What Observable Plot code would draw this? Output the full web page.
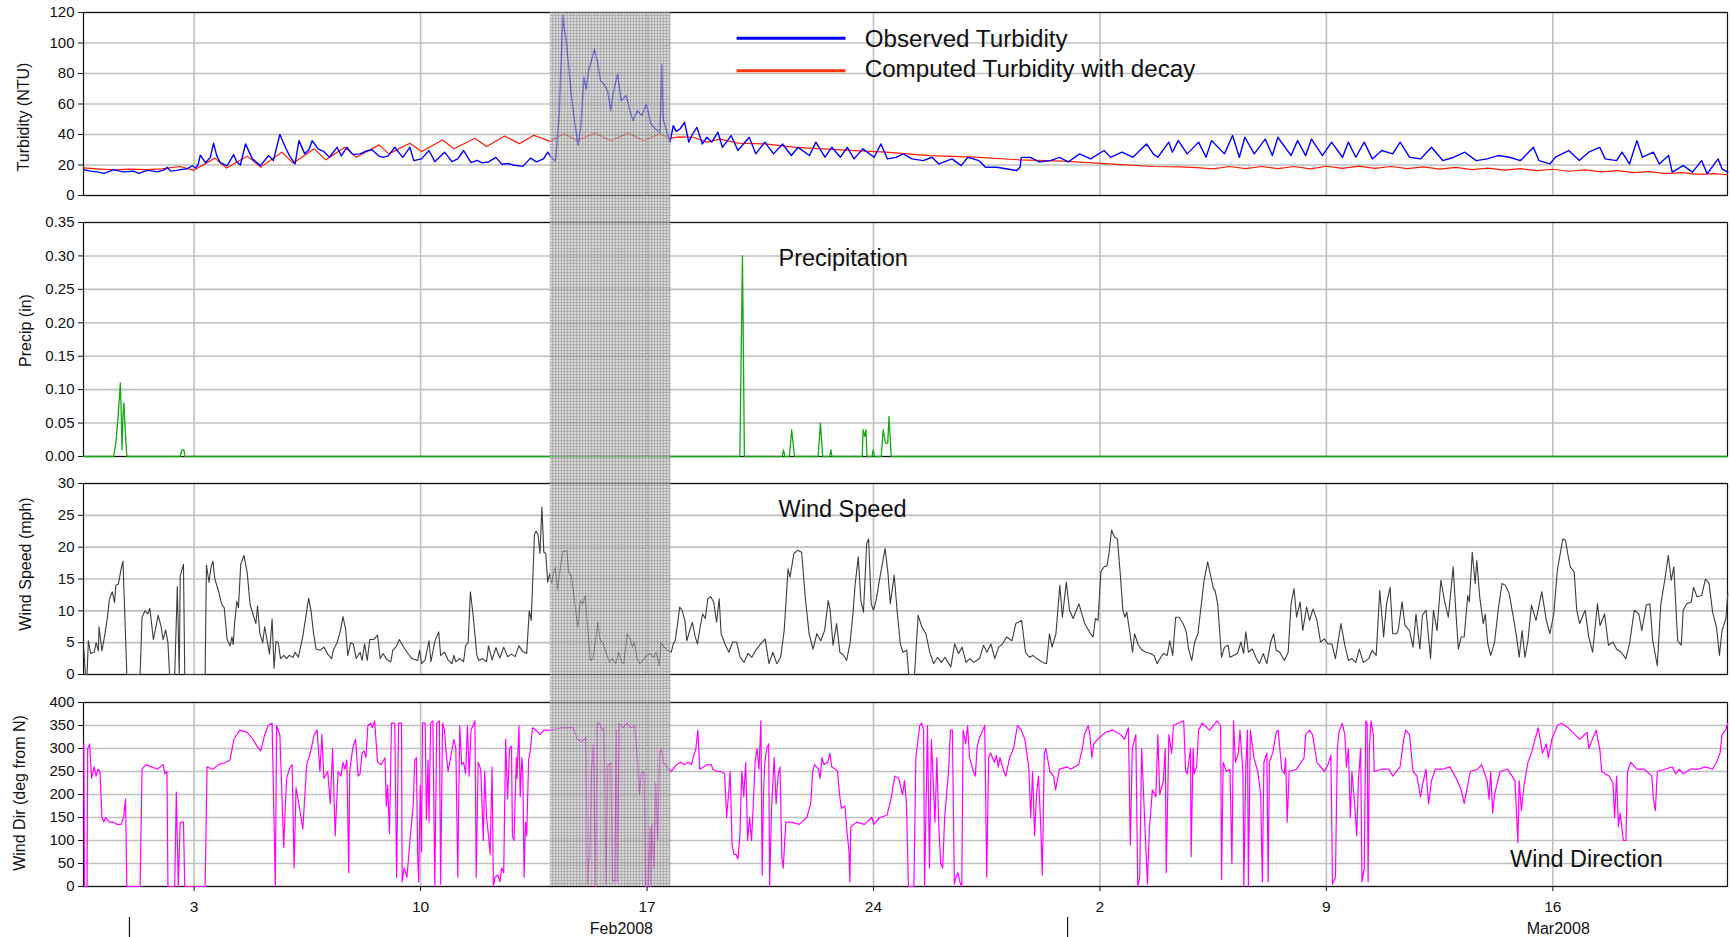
<!DOCTYPE html>
<html><head><meta charset="utf-8">
<script src="https://cdn.jsdelivr.net/npm/d3@7"></script>
<script src="https://cdn.jsdelivr.net/npm/@observablehq/plot@0.6"></script>
<style>
html,body{margin:0;padding:0;background:#fff;}
#chart{position:relative;width:1730px;height:937px;font-family:"Liberation Sans",Arial,sans-serif;}
#chart svg{display:block;}
</style></head><body><div id="chart"></div>
<script>
// time values are days after 1 Feb 2008 00:00 (UTC)
const baseDate = Date.UTC(2008, 1, 1);
const xDomainDays = [-1.42, 49.40];
const weekTicks = ["2008-02-03","2008-02-10","2008-02-17","2008-02-24","2008-03-02","2008-03-09","2008-03-16"];
const monthStarts = ["2008-02-01","2008-03-01"];
const monthLabels = ["Feb2008","Mar2008"];
const monthLabelDates = ["2008-02-16T05:00","2008-03-16T04:00"];
const shadeDays = [13.01, 16.74];

const turbTicks = [0,20,40,60,80,100,120];
const precipTicks = [0,0.05,0.10,0.15,0.20,0.25,0.30,0.35];
const speedTicks = [0,5,10,15,20,25,30];
const dirTicks = [0,50,100,150,200,250,300,350,400];

const turbObserved = [[-1.41,17],[-1.21,16],[-0.99,15.5],[-0.79,14.5],[-0.6,16],[-0.49,17],[-0.3,16],[-0.18,15.5],[0.13,16],[0.29,14.5],[0.55,16.5],[0.75,16],[0.86,15.5],[1.1,17],[1.17,18.5],[1.27,16],[1.45,16.5],[1.58,17],[1.78,17.5],[1.94,19.5],[2.04,18],[2.12,20],[2.19,26.5],[2.27,24],[2.35,21.5],[2.5,25],[2.6,34.3],[2.7,26],[2.81,21.6],[3.02,19.5],[3.22,26.8],[3.32,22],[3.43,20],[3.59,33.8],[3.8,24],[4.05,19.6],[4.3,26.2],[4.45,23],[4.65,40],[4.82,31.6],[4.95,26],[5.12,20.7],[5.24,36],[5.42,27.3],[5.55,30],[5.65,36],[5.83,30.6],[6.0,29],[6.18,25.1],[6.42,31.6],[6.55,26],[6.72,31.6],[6.9,27],[7.13,27.3],[7.3,29],[7.5,30],[7.7,26],[7.84,25],[8.0,26],[8.2,31.6],[8.45,25],[8.67,31.6],[8.79,22.9],[9.03,24],[9.26,29.5],[9.44,22.2],[9.74,28.4],[9.97,22.2],[10.15,24],[10.33,29.5],[10.56,21.6],[10.75,23],[10.9,21.4],[11.1,22],[11.33,25],[11.51,20.5],[11.7,21],[11.86,20],[12.16,19.1],[12.4,24.5],[12.58,22],[12.8,24],[12.93,28.4],[13.04,25.1],[13.17,22.5],[13.28,51.3],[13.4,118],[13.45,108],[13.49,104],[13.56,88.4],[13.67,64],[13.77,47],[13.87,33],[13.95,44.7],[14.05,77.5],[14.12,69.8],[14.19,81.8],[14.28,88],[14.37,96],[14.46,88.4],[14.56,75.3],[14.67,73],[14.78,68.7],[14.88,55.6],[14.95,66.6],[15.09,79.7],[15.2,62.2],[15.36,65.5],[15.47,55.6],[15.57,49.1],[15.7,55.6],[15.84,52.4],[15.98,60],[16.12,47],[16.26,43.6],[16.4,41.5],[16.46,86.2],[16.5,50],[16.63,40.5],[16.71,35],[16.81,45.8],[16.9,42],[17.02,43.6],[17.16,48],[17.29,35],[17.4,40],[17.54,44.7],[17.71,33.8],[17.85,38.2],[18.0,35],[18.19,41.5],[18.33,31.6],[18.6,39.3],[18.81,29.5],[19.16,38.2],[19.36,27.3],[19.64,35],[19.91,27.3],[20.19,33.8],[20.46,26.2],[20.67,31.6],[21.02,26.2],[21.22,35],[21.5,25.1],[21.71,31.6],[21.98,25.1],[22.19,31.6],[22.4,24],[22.67,30.6],[23.02,25.1],[23.23,33.8],[23.43,24],[23.7,25],[23.92,27.3],[24.19,24],[24.54,22.9],[24.81,25.1],[25.02,20.7],[25.43,24],[25.71,19.6],[25.92,25.1],[26.26,22.9],[26.46,18.5],[26.81,18.5],[27.09,17.5],[27.43,16.4],[27.53,18.5],[27.57,25],[27.85,25],[28.12,22],[28.47,22.9],[28.75,25],[29.02,22],[29.37,27.3],[29.71,24],[30.13,29.5],[30.33,25],[30.68,28.4],[31.02,25.1],[31.44,33.8],[31.65,27.3],[31.79,25.1],[32.13,35],[32.24,28.4],[32.42,36],[32.7,27.3],[33.05,35],[33.28,25.1],[33.45,36],[33.85,27.3],[34.1,39.3],[34.31,25.1],[34.48,38.2],[34.77,27.3],[35.11,37],[35.33,26.2],[35.5,38.2],[35.91,26.2],[36.11,36],[36.36,26.2],[36.54,37],[36.88,26.2],[37.16,35],[37.5,25.1],[37.68,35],[37.91,25.1],[38.17,35],[38.42,24],[38.71,29.5],[39.05,27.3],[39.28,35],[39.57,25.1],[39.91,24],[40.25,31.6],[40.6,22.9],[40.94,25.1],[41.28,28.4],[41.63,22.9],[41.97,24],[42.31,26.2],[42.66,25.1],[43.0,22.9],[43.4,31.6],[43.57,22.9],[43.91,20.7],[44.08,25.1],[44.49,29.5],[44.82,22.9],[45.11,28.4],[45.45,31.6],[45.62,24],[45.97,22.9],[46.14,28.4],[46.37,20.7],[46.6,36],[46.77,25.1],[47.11,28.4],[47.29,20.7],[47.58,26.2],[47.69,15.3],[48.03,19.6],[48.32,15.3],[48.6,22.9],[48.77,14.2],[49.11,24],[49.23,17.5],[49.41,15.3]];

const turbComputed = [[-1.42,18.1],[-0.9,17.3],[-0.44,16.8],[0.0,17.3],[0.51,17.0],[1.0,17.5],[1.57,19],[1.99,16.5],[2.64,24.5],[3.0,18],[3.64,25.8],[4.06,18.6],[4.71,28.4],[5.06,21.2],[5.71,30.6],[6.07,23.4],[6.66,31.6],[7.01,25.1],[7.72,33.2],[8.02,27.3],[8.67,34.3],[9.03,28.8],[9.68,36.4],[10.03,30.6],[10.68,37.5],[11.04,32.1],[11.6,39],[12.05,34],[12.5,39.5],[13.0,35.5],[13.43,40.5],[13.84,35.9],[14.39,41],[14.88,35.9],[15.43,41],[15.9,35.9],[16.39,40.5],[16.7,37.5],[17.0,38.5],[17.43,38.2],[17.85,35],[18.26,37],[18.81,34.3],[19.64,33.8],[20.6,31.6],[21.98,29.9],[23.37,28.4],[24.75,26.2],[26.12,25.1],[27.5,23.4],[28.88,22.5],[30.26,20.7],[31.65,19],[32.5,18.8],[33.0,18.3],[33.5,17.5],[34.0,19],[34.5,17.6],[35.0,19],[35.5,17.6],[36.0,19],[36.5,17.5],[37.0,19.2],[37.5,17.8],[38.0,19.3],[38.5,17.8],[39.0,19],[39.5,17.6],[40.0,18.8],[40.5,17.3],[41.0,18.4],[41.5,17],[42.0,18],[42.5,16.6],[43.0,17.6],[43.5,16.3],[44.0,17.2],[44.5,15.9],[45.0,16.8],[45.5,15.5],[46.0,16.3],[46.5,15],[47.0,15.7],[47.5,14.4],[48.0,15],[48.5,13.8],[49.0,14.3],[49.4,13.6]];

const precip = [[-1.42,0],[-0.49,0],[-0.42,0.02],[-0.35,0.06],[-0.28,0.11],[-0.25,0.06],[-0.23,0.01],[-0.2,0.06],[-0.17,0.08],[-0.12,0.03],[-0.08,0],[1.57,0],[1.62,0.01],[1.68,0.01],[1.72,0],[18.87,0],[18.95,0.30],[19.01,0],[20.18,0],[20.22,0.01],[20.26,0],[20.4,0],[20.47,0.04],[20.56,0],[21.29,0],[21.36,0.05],[21.43,0],[21.65,0],[21.68,0.01],[21.72,0],[22.65,0],[22.68,0.04],[22.73,0.03],[22.77,0.04],[22.8,0],[22.96,0],[22.99,0.01],[23.03,0],[23.24,0],[23.3,0.04],[23.37,0.02],[23.44,0.02],[23.48,0.06],[23.55,0],[49.4,0]];

const windSpeed = [[-1.41,4],[-1.36,0],[-1.31,0],[-1.27,5.3],[-1.2,3.3],[-1.09,3.5],[-1.03,5],[-0.96,3.7],[-0.94,7.5],[-0.85,3.7],[-0.77,6],[-0.68,9],[-0.62,11.8],[-0.53,13],[-0.46,11.3],[-0.42,14],[-0.34,14.2],[-0.26,16.5],[-0.2,17.8],[-0.08,0],[0.33,0],[0.39,9],[0.48,10],[0.57,9.5],[0.63,10.4],[0.74,5.5],[0.89,9.3],[0.98,7.5],[1.04,5.5],[1.12,7],[1.19,5],[1.24,0],[1.4,0],[1.48,13.8],[1.54,0],[1.57,15.5],[1.67,17.3],[1.71,0],[2.34,0],[2.38,17.2],[2.46,14.5],[2.52,16.8],[2.58,17.8],[2.64,15],[2.76,13],[2.85,11],[2.93,10.5],[3.02,5.5],[3.11,4.5],[3.17,5.9],[3.21,4.7],[3.25,8],[3.32,11.5],[3.37,10.5],[3.44,17.3],[3.54,18.7],[3.64,16],[3.73,11],[3.82,9.5],[3.91,8],[3.96,10.8],[4.03,6.5],[4.12,5],[4.18,7.5],[4.27,5],[4.33,3.2],[4.41,8.7],[4.47,1],[4.53,5.2],[4.6,5],[4.67,2.5],[4.77,3],[4.86,2.5],[4.94,3],[5.06,2.7],[5.12,3.5],[5.22,2.7],[5.36,6],[5.48,10],[5.54,12],[5.62,9.8],[5.69,6.5],[5.77,4],[5.89,3.8],[6.01,4.3],[6.13,3.2],[6.25,2.5],[6.3,3.8],[6.42,5],[6.52,6.8],[6.6,9.1],[6.68,7.2],[6.75,3],[6.84,5],[6.92,4.8],[7.01,2.5],[7.13,3.5],[7.19,2.2],[7.27,4.8],[7.35,2.2],[7.43,5.5],[7.55,5.5],[7.67,6.2],[7.75,2.5],[7.84,3.3],[7.96,2.3],[8.08,2],[8.14,3.8],[8.26,4.5],[8.34,5.5],[8.49,4.2],[8.61,3.3],[8.73,2.5],[8.91,2.2],[8.97,3.8],[9.03,1.7],[9.14,2.3],[9.26,5.3],[9.32,2],[9.44,5.2],[9.56,6.7],[9.62,3],[9.74,3.5],[9.85,2.3],[9.97,1.7],[10.03,3],[10.09,2],[10.21,2.5],[10.33,2],[10.39,4.5],[10.47,5],[10.54,13],[10.62,9.5],[10.74,3],[10.8,2.2],[10.92,2.5],[11.04,2],[11.1,4.5],[11.21,2.3],[11.33,4.2],[11.45,2.6],[11.57,4.3],[11.69,2.8],[11.81,3.2],[11.92,2.8],[12.04,4.5],[12.16,3.6],[12.28,3.3],[12.36,10],[12.42,8.5],[12.52,22],[12.57,22.5],[12.63,22],[12.69,19],[12.75,26.3],[12.81,19.2],[12.87,19],[12.93,14.5],[12.99,15.8],[13.05,14.3],[13.11,16],[13.17,16.8],[13.23,13.3],[13.34,17.5],[13.4,19.3],[13.52,19.5],[13.58,16],[13.66,15.5],[13.77,11.1],[13.86,7.4],[13.94,11.6],[14.01,11.1],[14.09,12.4],[14.17,6.9],[14.25,2.2],[14.33,2.5],[14.48,8.2],[14.54,5.6],[14.65,4.8],[14.74,3.3],[14.84,1.9],[14.92,2.5],[15.04,1.7],[15.12,3.5],[15.22,1.9],[15.28,1.7],[15.39,6.4],[15.48,5.6],[15.55,4.3],[15.61,5.1],[15.69,2.5],[15.78,1.7],[15.87,2.2],[15.99,3],[16.1,3.3],[16.2,2.7],[16.28,3.5],[16.38,1.4],[16.43,5.1],[16.52,4.3],[16.64,3.8],[16.75,3.5],[16.81,4.8],[16.87,5.3],[16.93,7.4],[17.01,10.6],[17.08,10.1],[17.17,8.5],[17.23,5.3],[17.32,6.9],[17.4,8.2],[17.49,5.9],[17.56,4.8],[17.64,7.4],[17.72,9.5],[17.8,8.8],[17.88,11.9],[17.97,12.2],[18.06,11.4],[18.15,8.2],[18.23,11.9],[18.29,6.4],[18.41,4.8],[18.53,3.5],[18.65,5.1],[18.77,5.1],[18.88,2.7],[19.0,1.9],[19.12,3.3],[19.24,2.7],[19.36,3.8],[19.48,4.6],[19.65,5.6],[19.77,1.7],[19.89,3.5],[20.01,1.7],[20.13,2.7],[20.24,6.9],[20.36,16.6],[20.42,15.3],[20.54,19],[20.66,19.5],[20.78,19.2],[20.89,12.2],[21.01,6.4],[21.13,4],[21.25,6.4],[21.37,5.3],[21.49,6.9],[21.6,11.6],[21.66,10.1],[21.75,4.6],[21.86,8],[21.96,3.5],[22.08,3],[22.17,2.2],[22.28,5.1],[22.37,9.8],[22.43,14],[22.53,18.5],[22.61,11.6],[22.69,9.8],[22.79,20.6],[22.85,21.3],[22.93,11.1],[23.0,10.1],[23.08,11.6],[23.2,15.3],[23.36,19.8],[23.45,15.8],[23.52,11.1],[23.64,15.6],[23.73,10.1],[23.83,4.8],[23.91,3.5],[24.03,3.8],[24.09,0],[24.27,0],[24.38,9.3],[24.5,7.4],[24.62,6.4],[24.74,3.5],[24.86,1.7],[24.98,2.7],[25.1,1.9],[25.21,2.7],[25.39,1.2],[25.51,4.8],[25.63,3.3],[25.74,4.3],[25.86,1.9],[25.98,2.5],[26.1,1.9],[26.28,2.5],[26.4,4.6],[26.51,3.5],[26.63,4.8],[26.75,2.5],[26.87,4.3],[26.99,4.8],[27.11,5.9],[27.28,5.3],[27.4,8],[27.58,8.5],[27.7,3.5],[27.82,2.7],[27.93,3],[28.05,2.5],[28.23,1.9],[28.35,1.7],[28.44,6.4],[28.52,4.3],[28.64,6.4],[28.76,14],[28.84,9],[28.96,14.5],[29.06,10.1],[29.17,8.8],[29.35,11.1],[29.53,8],[29.71,6.4],[29.79,5.9],[29.86,8.8],[29.94,8.5],[30.03,16.1],[30.12,16.9],[30.22,17.1],[30.28,19],[30.36,22.7],[30.45,21.6],[30.54,21.3],[30.62,16.4],[30.71,10.1],[30.77,9],[30.83,9.8],[30.93,6.4],[31.01,3.5],[31.07,6.4],[31.19,4.6],[31.31,3.8],[31.42,3.5],[31.56,3.3],[31.67,3],[31.77,1.7],[31.88,2.7],[31.96,3.3],[32.08,3],[32.16,5.3],[32.25,3],[32.34,9],[32.45,9],[32.57,8],[32.67,6.7],[32.74,4],[32.84,2.2],[32.93,5.1],[33.03,6.4],[33.1,9.5],[33.22,14.8],[33.33,17.7],[33.41,15.8],[33.51,13.5],[33.56,13.2],[33.64,11.1],[33.76,2.7],[33.85,4.3],[33.96,4.6],[34.02,2.7],[34.13,3],[34.25,3.3],[34.36,5.1],[34.44,3.3],[34.51,6.7],[34.59,3.5],[34.71,4],[34.82,2.7],[34.93,1.7],[35.05,3.3],[35.16,1.7],[35.28,5.1],[35.37,6.4],[35.45,3.8],[35.56,3.5],[35.7,2.2],[35.82,3.5],[35.91,11.1],[36.0,13.5],[36.08,9],[36.19,11.4],[36.27,6.9],[36.39,10.6],[36.48,8.5],[36.59,10.3],[36.71,8.5],[36.82,5.1],[36.94,5.6],[37.05,4.8],[37.17,4.8],[37.28,2.5],[37.45,8],[37.57,4.6],[37.68,2.2],[37.79,2.5],[37.91,1.9],[38.02,4],[38.14,1.9],[38.31,2.5],[38.42,3.8],[38.54,3],[38.65,13.2],[38.77,5.9],[38.86,11.1],[38.97,13.7],[39.05,6.4],[39.17,6.4],[39.22,6.9],[39.34,11.4],[39.43,7.7],[39.57,6.9],[39.68,4.3],[39.77,9.5],[39.89,4],[39.97,9.3],[40.08,10.1],[40.22,2.5],[40.31,10.1],[40.42,6.9],[40.54,14.8],[40.65,11.6],[40.77,9],[40.92,16.9],[41.0,10.1],[41.08,4],[41.17,5.9],[41.26,5.9],[41.37,12.4],[41.42,11.4],[41.51,19.2],[41.6,14.3],[41.65,17.9],[41.74,12.2],[41.85,8],[41.91,9.5],[41.99,4.8],[42.08,3],[42.2,5.1],[42.31,10.1],[42.43,14.3],[42.54,14],[42.65,12.7],[42.77,9.3],[42.88,5.9],[42.96,2.7],[43.05,6.9],[43.14,2.7],[43.23,5.3],[43.34,10.9],[43.48,8.5],[43.66,13],[43.8,8.5],[43.91,6.4],[44.03,9.5],[44.14,16.4],[44.23,19],[44.31,21.3],[44.39,21.1],[44.46,19],[44.54,16.9],[44.66,16.1],[44.74,10.1],[44.83,8],[45.0,10.1],[45.11,5.9],[45.23,3.5],[45.38,11.1],[45.46,7.7],[45.6,9.5],[45.72,4.6],[45.86,5.1],[45.97,4],[46.11,3.5],[46.26,2.5],[46.37,4.8],[46.52,10.1],[46.66,9.5],[46.75,6.9],[46.89,10.9],[47.0,11.1],[47.09,5.3],[47.23,1.4],[47.34,11.1],[47.46,14.8],[47.57,18.7],[47.66,14.8],[47.74,16.9],[47.86,5.3],[47.97,4.6],[48.03,10.1],[48.14,11.1],[48.28,11.4],[48.35,13.7],[48.46,12.2],[48.6,12.4],[48.72,15],[48.83,14.3],[48.94,9.8],[49.06,7.4],[49.15,3],[49.23,6.9],[49.35,8.8],[49.41,12.7]];

const windDir = [[-1.41,310],[-1.39,0],[-1.31,0],[-1.29,300],[-1.23,310],[-1.17,235],[-1.09,260],[-1.03,240],[-0.97,255],[-0.91,250],[-0.85,150],[-0.79,140],[-0.74,150],[-0.62,140],[-0.5,140],[-0.38,135],[-0.26,135],[-0.18,150],[-0.12,190],[-0.08,0],[0.33,0],[0.39,255],[0.51,265],[0.69,260],[0.86,255],[1.04,265],[1.1,245],[1.16,250],[1.19,0],[1.4,0],[1.45,205],[1.51,0],[1.57,140],[1.67,140],[1.71,0],[2.34,0],[2.4,260],[2.58,255],[2.76,265],[2.99,270],[3.11,275],[3.23,320],[3.41,340],[3.64,335],[3.82,320],[3.94,305],[4.06,295],[4.18,330],[4.29,350],[4.41,355],[4.51,0],[4.55,350],[4.65,330],[4.77,85],[4.81,160],[4.86,235],[4.94,255],[5.03,265],[5.09,40],[5.15,215],[5.26,170],[5.36,125],[5.48,265],[5.59,290],[5.71,330],[5.8,340],[5.89,250],[5.95,330],[6.01,235],[6.13,250],[6.21,180],[6.28,300],[6.36,110],[6.45,250],[6.54,240],[6.6,270],[6.66,255],[6.72,275],[6.78,30],[6.81,250],[6.9,300],[6.99,320],[7.07,240],[7.13,245],[7.19,290],[7.25,295],[7.31,280],[7.37,350],[7.46,355],[7.51,345],[7.58,360],[7.67,270],[7.78,265],[7.9,280],[7.94,175],[7.98,220],[8.04,115],[8.1,355],[8.2,355],[8.26,20],[8.32,355],[8.41,355],[8.43,10],[8.49,40],[8.58,20],[8.67,100],[8.77,175],[8.82,275],[8.87,280],[8.91,65],[8.94,10],[8.99,220],[9.03,75],[9.06,355],[9.14,355],[9.18,145],[9.23,275],[9.26,140],[9.31,355],[9.38,360],[9.44,0],[9.5,355],[9.58,360],[9.62,5],[9.68,355],[9.74,340],[9.79,290],[9.85,250],[10.03,320],[10.09,300],[10.15,20],[10.21,350],[10.27,265],[10.33,270],[10.39,245],[10.45,350],[10.5,240],[10.56,340],[10.68,360],[10.72,20],[10.78,270],[10.86,255],[10.94,100],[10.98,250],[11.04,150],[11.1,110],[11.15,70],[11.21,260],[11.25,0],[11.3,20],[11.39,25],[11.45,10],[11.51,40],[11.57,30],[11.63,320],[11.69,190],[11.75,300],[11.81,305],[11.84,110],[11.89,100],[11.96,280],[11.98,235],[12.04,350],[12.08,195],[12.13,280],[12.16,250],[12.2,20],[12.24,140],[12.28,110],[12.34,275],[12.4,300],[12.46,345],[12.57,340],[12.69,330],[12.81,340],[13.01,340],[13.37,345],[13.72,345],[13.84,320],[13.96,315],[14.08,320],[14.11,325],[14.16,5],[14.2,60],[14.23,60],[14.28,245],[14.34,310],[14.41,0],[14.46,355],[14.53,355],[14.61,340],[14.67,345],[14.73,5],[14.79,265],[14.85,265],[14.88,270],[14.93,15],[15.0,10],[15.05,340],[15.08,10],[15.14,355],[15.26,345],[15.38,355],[15.5,345],[15.62,350],[15.71,270],[15.77,200],[15.82,245],[15.91,250],[15.95,0],[16.03,0],[16.09,130],[16.11,0],[16.15,135],[16.21,40],[16.27,225],[16.33,100],[16.39,290],[16.45,300],[16.5,270],[16.62,260],[16.74,250],[16.92,265],[17.04,270],[17.16,265],[17.27,270],[17.37,265],[17.45,285],[17.51,300],[17.57,340],[17.63,255],[17.75,260],[17.86,265],[17.98,265],[18.04,255],[18.16,250],[18.28,250],[18.4,245],[18.46,150],[18.52,200],[18.57,250],[18.63,90],[18.69,70],[18.75,70],[18.81,60],[18.87,110],[18.93,250],[18.99,195],[19.05,270],[19.11,100],[19.17,150],[19.23,100],[19.28,170],[19.34,270],[19.4,300],[19.46,255],[19.52,360],[19.56,25],[19.6,200],[19.64,270],[19.7,300],[19.76,310],[19.79,0],[19.85,170],[19.93,280],[19.99,180],[20.05,240],[20.11,260],[20.17,60],[20.21,40],[20.29,140],[20.47,140],[20.7,135],[20.94,150],[21.06,180],[21.12,250],[21.18,265],[21.3,255],[21.35,235],[21.41,280],[21.47,265],[21.59,270],[21.65,290],[21.71,260],[21.83,255],[21.89,250],[21.95,200],[22.01,170],[22.12,175],[22.18,120],[22.24,80],[22.27,10],[22.3,130],[22.48,140],[22.72,135],[22.95,150],[23.01,135],[23.19,150],[23.42,155],[23.54,190],[23.66,240],[23.78,235],[23.9,200],[23.96,230],[24.02,180],[24.08,0],[24.25,0],[24.31,280],[24.43,350],[24.49,355],[24.55,340],[24.58,0],[24.67,350],[24.73,40],[24.79,320],[24.84,240],[24.9,140],[24.96,280],[25.02,130],[25.08,50],[25.14,40],[25.2,150],[25.32,250],[25.38,340],[25.44,340],[25.5,5],[25.55,20],[25.61,30],[25.67,10],[25.73,0],[25.77,340],[25.85,310],[25.91,350],[25.97,280],[26.09,250],[26.15,240],[26.2,300],[26.26,320],[26.38,340],[26.44,350],[26.5,20],[26.56,280],[26.62,290],[26.74,270],[26.8,285],[26.86,260],[26.91,280],[27.03,250],[27.09,240],[27.21,280],[27.33,300],[27.45,350],[27.57,340],[27.68,320],[27.8,260],[27.86,150],[27.92,250],[27.98,110],[28.04,200],[28.1,240],[28.16,150],[28.22,25],[28.28,290],[28.33,300],[28.45,250],[28.57,240],[28.63,210],[28.75,255],[28.99,260],[29.1,255],[29.34,265],[29.46,300],[29.52,330],[29.64,350],[29.69,330],[29.75,280],[29.81,310],[29.93,320],[30.17,335],[30.4,340],[30.64,330],[30.76,320],[30.88,345],[30.94,90],[31.0,300],[31.11,330],[31.17,0],[31.23,20],[31.29,300],[31.41,100],[31.47,5],[31.53,130],[31.56,150],[31.62,210],[31.73,195],[31.79,330],[31.85,200],[31.96,230],[32.02,300],[32.05,30],[32.11,250],[32.13,330],[32.22,290],[32.27,350],[32.42,355],[32.59,360],[32.65,250],[32.7,245],[32.8,300],[32.82,65],[32.88,300],[32.91,245],[32.99,260],[33.05,340],[33.16,355],[33.39,340],[33.62,360],[33.73,350],[33.76,15],[33.81,270],[33.91,250],[34.02,255],[34.08,50],[34.13,360],[34.19,270],[34.28,290],[34.33,340],[34.42,250],[34.45,0],[34.51,260],[34.56,340],[34.59,0],[34.65,340],[34.76,280],[34.88,250],[34.97,200],[35.02,10],[35.07,270],[35.16,290],[35.2,10],[35.24,270],[35.34,290],[35.45,335],[35.51,340],[35.62,255],[35.7,245],[35.74,280],[35.79,140],[35.85,250],[36.08,255],[36.31,280],[36.36,330],[36.48,340],[36.57,330],[36.71,270],[36.94,250],[37.05,265],[37.14,285],[37.19,5],[37.28,20],[37.34,300],[37.39,335],[37.49,355],[37.57,330],[37.62,260],[37.68,300],[37.74,150],[37.79,250],[37.85,200],[37.94,110],[37.99,230],[38.06,300],[38.1,10],[38.17,40],[38.22,360],[38.26,355],[38.29,10],[38.33,300],[38.38,360],[38.45,330],[38.48,250],[38.71,255],[38.94,255],[39.05,240],[39.28,260],[39.39,320],[39.45,340],[39.57,330],[39.68,250],[39.8,240],[39.91,195],[39.97,220],[40.08,255],[40.16,180],[40.25,230],[40.37,255],[40.6,255],[40.82,260],[41.05,230],[41.17,210],[41.26,180],[41.34,210],[41.45,250],[41.68,255],[41.8,265],[41.97,230],[42.03,190],[42.08,250],[42.14,160],[42.2,200],[42.37,250],[42.6,255],[42.83,230],[42.92,95],[42.96,230],[43.03,165],[43.11,220],[43.23,270],[43.34,290],[43.45,320],[43.55,345],[43.68,290],[43.8,310],[43.86,280],[43.97,320],[44.14,350],[44.26,355],[44.48,345],[44.83,320],[45.06,335],[45.11,300],[45.34,340],[45.46,295],[45.51,250],[45.74,240],[45.86,225],[45.91,150],[45.97,240],[46.03,130],[46.08,160],[46.18,100],[46.26,100],[46.31,250],[46.41,270],[46.6,255],[46.83,255],[47.06,240],[47.11,190],[47.17,165],[47.23,250],[47.46,255],[47.69,260],[47.8,245],[47.91,255],[48.03,245],[48.26,255],[48.49,255],[48.72,260],[48.94,255],[49.06,270],[49.17,290],[49.23,330],[49.34,340],[49.41,355]];

// ---------- helpers ----------
const toDate = t => new Date(baseDate + t * 864e5);
const parseDay = d3.utcParse("%Y-%m-%d");
const parseTime = d3.utcParse("%Y-%m-%dT%H:%M");
const xDomain = xDomainDays.map(toDate);
const weekDates = weekTicks.map(parseDay);
const monthStartDates = monthStarts.map(parseDay);
const monthText = monthLabels.map((label, i) => ({label, date: parseTime(monthLabelDates[i])}));
const shade = [{start: toDate(shadeDays[0]), end: toDate(shadeDays[1])}];
const FONT = '"Liberation Sans", Arial, Helvetica, sans-serif';
const GRID = "#c0c0c0";

function addPattern(svg, id) {
  d3.select(svg).insert("defs", ":first-child").html(
    `<pattern id="${id}" width="3" height="3" patternUnits="userSpaceOnUse">
       <rect width="3" height="3" fill="#c4c4c4"/>
       <rect width="3" height="1" fill="#8a8a8a"/>
       <rect width="1" height="3" fill="#8a8a8a"/>
     </pattern>`);
}

function panel(o) {
  const marks = [
    Plot.gridX(weekDates, {stroke: GRID, strokeOpacity: 1, strokeWidth: 1.6}),
    Plot.gridY(o.ticks, {stroke: GRID, strokeOpacity: 1, strokeWidth: 1.6}),
    Plot.frame({stroke: "#111", strokeWidth: 1.2}),
    ...o.lines,
    Plot.rect(shade, {x1: "start", x2: "end", fill: `url(#${o.pid})`, fillOpacity: 0.68,
      insetTop: o.shadeTop, insetBottom: o.shadeBottom}),
    Plot.axisY(o.ticks, {tickSize: 5, tickPadding: 4, tickFormat: o.fmt, label: null, fontSize: 15}),
    Plot.text([o.label], {frameAnchor: "left", textAnchor: "middle", rotate: -90, dx: o.labelDx, dy: o.labelDy, fontSize: 16, fill: "#111"}),
    ...(o.extra || [])
  ];
  const svg = Plot.plot({
    width: 1730, height: o.height,
    marginLeft: 83, marginRight: 3, marginTop: o.mt, marginBottom: o.mb,
    x: {type: "utc", domain: xDomain, axis: null},
    y: {domain: [o.ticks[0], o.ticks[o.ticks.length - 1]], axis: null},
    style: {fontFamily: FONT, fontSize: "15px", color: "#111", background: "white", overflow: "visible"},
    marks
  });
  addPattern(svg, o.pid);
  return svg;
}

const X = d => toDate(d[0]);
const Y = d => d[1];
const chart = document.getElementById("chart");

chart.append(panel({
  pid: "hatch1", height: 209, mt: 12, mb: 14, ticks: turbTicks, fmt: d3.format("d"),
  label: "Turbidity (NTU)", labelDx: -60, labelDy: 13,
  shadeTop: 0, shadeBottom: -14,
  lines: [
    Plot.line(turbComputed, {x: X, y: Y, stroke: "#ff1a00", strokeWidth: 1.2}),
    Plot.line(turbObserved, {x: X, y: Y, stroke: "#0000ff", strokeWidth: 1.4})
  ]
}));

chart.append(panel({
  pid: "hatch2", height: 261, mt: 13, mb: 14, ticks: precipTicks, fmt: d3.format(".2f"),
  label: "Precip (in)", labelDx: -57.5, labelDy: -9,
  shadeTop: -13, shadeBottom: -14,
  lines: [Plot.line(precip, {x: X, y: Y, stroke: "#14a814", strokeWidth: 1.3})],
  extra: [Plot.text(["Precipitation"], {frameAnchor: "top-left", dx: 695, dy: 43, lineAnchor: "bottom", textAnchor: "start", fontSize: 23.5, fill: "#111"})]
}));

chart.append(panel({
  pid: "hatch3", height: 218, mt: 13, mb: 14, ticks: speedTicks, fmt: d3.format("d"),
  label: "Wind Speed (mph)", labelDx: -58, labelDy: -15,
  shadeTop: -13, shadeBottom: -14,
  lines: [Plot.line(windSpeed, {x: X, y: Y, stroke: "#3c3c3c", strokeWidth: 1.1})],
  extra: [Plot.text(["Wind Speed"], {frameAnchor: "top-left", dx: 695, dy: 33, lineAnchor: "bottom", textAnchor: "start", fontSize: 23.5, fill: "#111"})]
}));

chart.append(panel({
  pid: "hatch4", height: 249, mt: 14, mb: 51, ticks: dirTicks, fmt: d3.format("d"),
  label: "Wind Dir (deg from N)", labelDx: -63.5, labelDy: -1.5,
  shadeTop: -14, shadeBottom: 0,
  lines: [Plot.line(windDir, {x: X, y: Y, stroke: "#ff00ff", strokeWidth: 1.2})],
  extra: [
    Plot.text(["Wind Direction"], {frameAnchor: "top-left", dx: 1426.5, dy: 164, lineAnchor: "bottom", textAnchor: "start", fontSize: 23.5, fill: "#111"}),
    Plot.axisX(weekDates, {tickSize: 5, tickPadding: 9, tickFormat: d3.utcFormat("%-d"), label: null, fontSize: 15.5}),
    Plot.tickX(monthStartDates, {x: d => d, stroke: "#111", strokeWidth: 1.2, insetTop: 215, insetBottom: -51}),
    Plot.text(monthText, {x: "date", text: "label", frameAnchor: "bottom", dy: 47, lineAnchor: "bottom", fontSize: 16, fill: "#111"})
  ]
}));

// legend overlay
const lg = d3.select(chart).append("svg")
  .attr("width", 1730).attr("height", 100)
  .style("position", "absolute").style("left", "0px").style("top", "0px")
  .style("font-family", FONT);
const legendItems = [
  {label: "Observed Turbidity", color: "#0000ff", y: 38.3, base: 46.7},
  {label: "Computed Turbidity with decay", color: "#ff3300", y: 70.7, base: 76.7}
];
legendItems.forEach(it => {
  lg.append("line").attr("x1", 736.6).attr("x2", 845.5).attr("y1", it.y).attr("y2", it.y)
    .attr("stroke", it.color).attr("stroke-width", 3);
  lg.append("text").attr("x", 864.7).attr("y", it.base).attr("font-size", 24.2).attr("fill", "#111").text(it.label);
});
</script></body></html>
